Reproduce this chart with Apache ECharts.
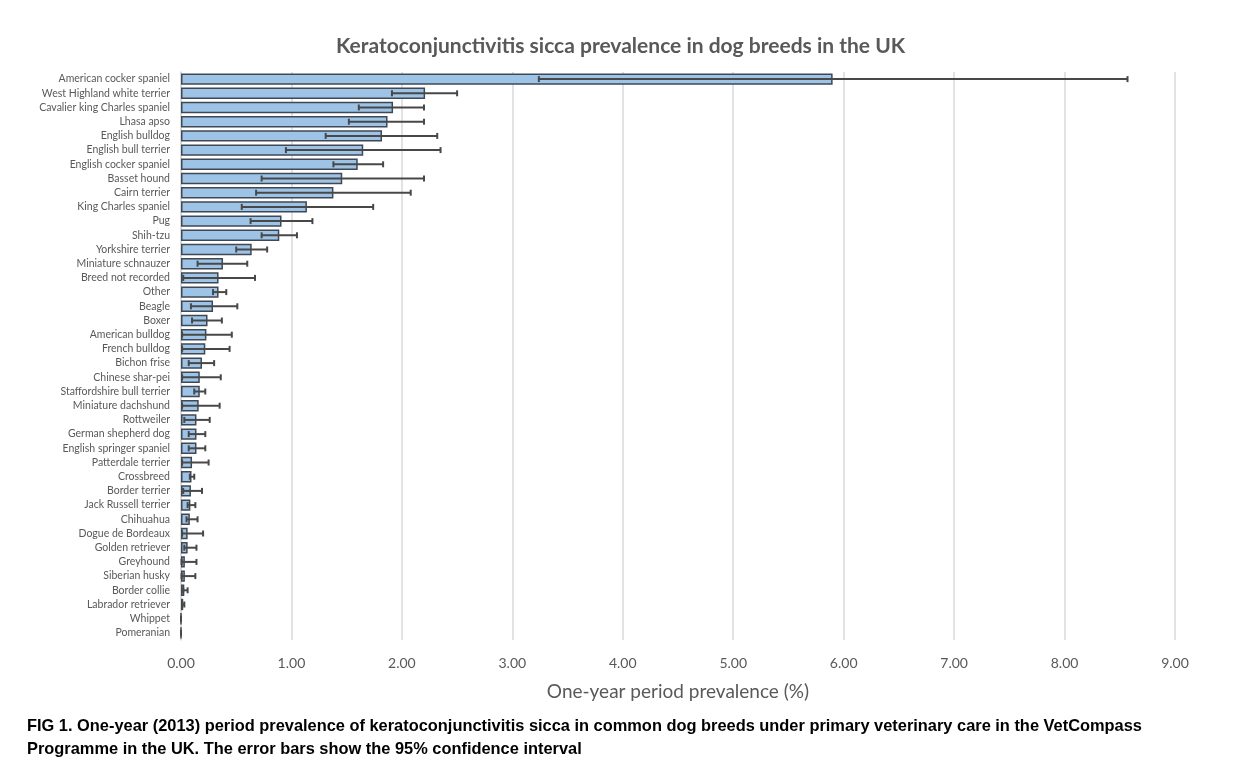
<!DOCTYPE html>
<html>
<head>
<meta charset="utf-8">
<script src="https://cdn.jsdelivr.net/npm/echarts@6/dist/echarts.min.js"></script>
<style>
html,body{margin:0;padding:0;background:#fff;}
#chart{width:1256px;height:783px;}
</style>
</head>
<body>
<div id="chart"></div>
<script>
var breeds = ["American cocker spaniel","West Highland white terrier","Cavalier king Charles spaniel","Lhasa apso","English bulldog","English bull terrier","English cocker spaniel","Basset hound","Cairn terrier","King Charles spaniel","Pug","Shih-tzu","Yorkshire terrier","Miniature schnauzer","Breed not recorded","Other","Beagle","Boxer","American bulldog","French bulldog","Bichon frise","Chinese shar-pei","Staffordshire bull terrier","Miniature dachshund","Rottweiler","German shepherd dog","English springer spaniel","Patterdale terrier","Crossbreed","Border terrier","Jack Russell terrier","Chihuahua","Dogue de Bordeaux","Golden retriever","Greyhound","Siberian husky","Border collie","Labrador retriever","Whippet","Pomeranian"];
var prevalence = [5.90,2.21,1.92,1.87,1.82,1.65,1.60,1.46,1.38,1.14,0.91,0.89,0.64,0.38,0.34,0.34,0.29,0.24,0.23,0.22,0.19,0.17,0.17,0.16,0.14,0.14,0.14,0.10,0.095,0.09,0.085,0.08,0.06,0.06,0.035,0.035,0.03,0.02,0,0];
var ciLower = [3.24,1.91,1.61,1.52,1.31,0.95,1.38,0.73,0.68,0.55,0.63,0.73,0.50,0.15,0.02,0.29,0.09,0.10,0.01,0.01,0.07,0.01,0.12,0.01,0.03,0.07,0.07,0.01,0.08,0.02,0.06,0.05,0.01,0.03,0.005,0.005,0.02,0.01,0,0];
var ciUpper = [8.57,2.50,2.20,2.20,2.32,2.35,1.83,2.20,2.08,1.74,1.19,1.05,0.78,0.60,0.67,0.41,0.51,0.37,0.46,0.44,0.30,0.36,0.22,0.35,0.26,0.22,0.22,0.25,0.12,0.19,0.13,0.15,0.20,0.14,0.14,0.13,0.06,0.03,0,0];
var xTicks = ["0.00","1.00","2.00","3.00","4.00","5.00","6.00","7.00","8.00","9.00"];

var errData = breeds.map(function(b,i){ return [i, ciLower[i], ciUpper[i]]; });

var chart = echarts.init(document.getElementById('chart'));
chart.setOption({
  backgroundColor:'#fff',
  animation:false,
  title:[{
    text:'Keratoconjunctivitis sicca prevalence in dog breeds in the UK',
    left:336, top:36, padding:0,
    textStyle:{fontFamily:'Lato, "Open Sans", sans-serif', fontSize:21, fontWeight:'bold', color:'#595959'}
  },{
    text:'FIG 1. One-year (2013) period prevalence of keratoconjunctivitis sicca in common dog breeds under primary veterinary care in the VetCompass\nProgramme in the UK. The error bars show the 95% confidence interval',
    left:27, top:715, padding:0,
    textStyle:{fontFamily:'"Liberation Sans", Arial, sans-serif', fontSize:16.4, fontWeight:'bold', color:'#000', lineHeight:23}
  }],
  grid:{left:181, right:81, top:72, bottom:143, containLabel:false},
  xAxis:{
    type:'value', min:0, max:9, interval:1,
    axisLine:{show:false}, axisTick:{show:false},
    splitLine:{show:true, lineStyle:{color:'#d9d9d9', width:1.5}},
    axisLabel:{color:'#595959', fontSize:14, fontFamily:'Lato, sans-serif', margin:16,
      formatter:function(v){ return xTicks[Math.round(v)]; }},
    name:'One-year period prevalence (%)', nameLocation:'middle', nameGap:42,
    nameTextStyle:{color:'#595959', fontSize:19, fontFamily:'Lato, sans-serif'}
  },
  yAxis:{
    type:'category', data:breeds, inverse:true,
    axisLine:{show:true, lineStyle:{color:'#d9d9d9', width:1.5}}, axisTick:{show:false},
    axisLabel:{color:'#595959', fontSize:10.5, fontFamily:'Lato, sans-serif', margin:11, interval:0}
  },
  series:[{
    type:'bar', data:prevalence, barCategoryGap:'20%',
    itemStyle:{color:'#9dc3e6', borderColor:'#404854', borderWidth:1.5}
  },{
    type:'custom', data:errData,
    encode:{x:[1,2], y:0},
    renderItem:function(params, api){
      var y = api.value(0);
      var lo = api.coord([api.value(1), y]);
      var hi = api.coord([api.value(2), y]);
      var h = 6;
      var st = {stroke:'#484848', lineWidth:2};
      return {type:'group', children:[
        {type:'line', shape:{x1:lo[0], y1:lo[1], x2:hi[0], y2:hi[1]}, style:st},
        {type:'line', shape:{x1:lo[0], y1:lo[1]-h/2, x2:lo[0], y2:lo[1]+h/2}, style:st},
        {type:'line', shape:{x1:hi[0], y1:hi[1]-h/2, x2:hi[0], y2:hi[1]+h/2}, style:st}
      ]};
    },
    z:5
  }]
});
</script>
</body>
</html>
